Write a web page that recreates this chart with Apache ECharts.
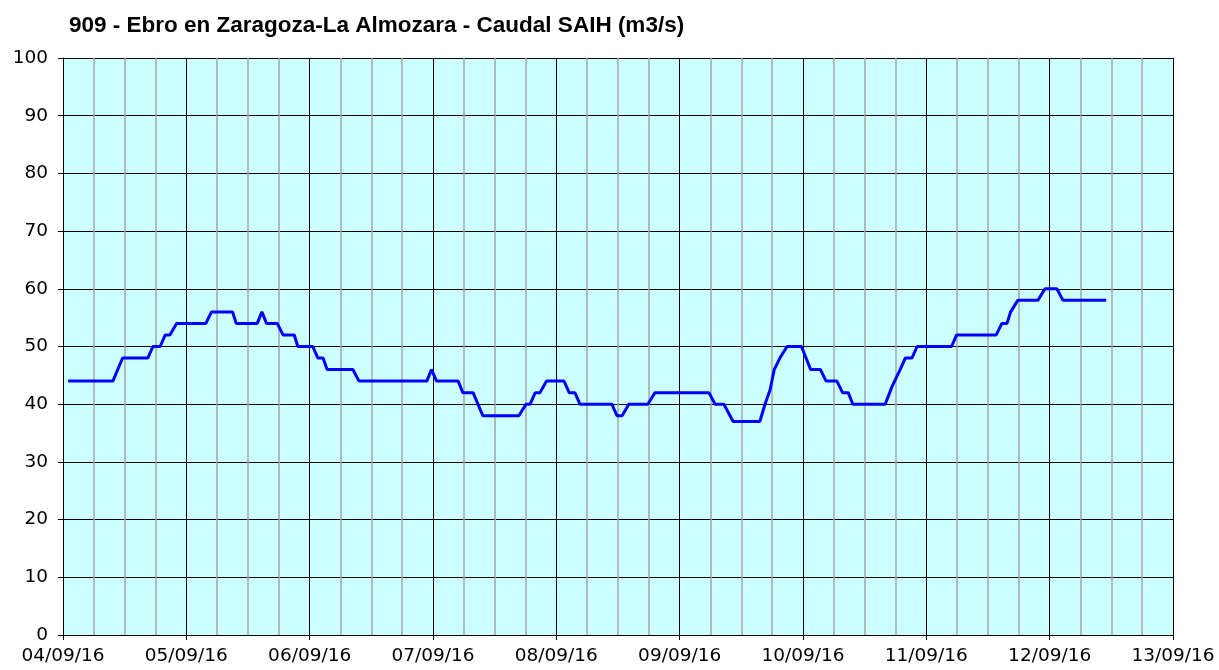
<!DOCTYPE html>
<html>
<head>
<meta charset="utf-8">
<script src="https://cdn.jsdelivr.net/npm/echarts@6/dist/echarts.min.js"></script>
<style>
  html, body { margin: 0; padding: 0; background: #fff; }
  #chart { width: 1219px; height: 670px; }
</style>
</head>
<body>
<div id="chart"></div>
<script>
// hours since 04/09/16 00:00
var hours = [1, 9.7, 11.6, 16.5, 17.5, 18.9, 19.9, 20.8, 22.1, 27.8, 28.9, 33, 33.7, 37.8, 38.7, 39.6,
  41.7, 42.8, 45, 45.7, 48.6, 49.6, 50.6, 51.4, 56.4, 57.6, 70.8, 71.7, 72.7, 76.9, 77.8, 79.8,
  81.7, 88.7, 90.1, 90.9, 91.9, 92.8, 94.1, 97.5, 98.5, 99.6, 100.6, 106.8, 107.8, 108.8, 110.1,
  113.8, 115.2, 125.7, 126.9, 128.6, 130.4, 135.6, 136.6, 137.6, 138.4, 139.5, 140.9, 143.7,
  145.5, 147.4, 148.5, 150.6, 151.7, 152.8, 153.7, 160, 161.3, 162.9, 163.9, 165.2, 166.2,
  172.9, 173.9, 181.6, 182.7, 183.7, 184.4, 185.8, 189.7, 191.1, 193.4, 194.6, 203];
var caudal = [44, 44, 48, 48, 50, 50, 52, 52, 54, 54, 56, 56, 54, 54, 56, 54,
  54, 52, 52, 50, 50, 48, 48, 46, 46, 44, 44, 46, 44, 44, 42, 42,
  38, 38, 40, 40, 42, 42, 44, 44, 42, 42, 40, 40, 38, 38, 40,
  40, 42, 42, 40, 40, 37, 37, 40, 42.5, 46, 48, 50, 50,
  46, 46, 44, 44, 42, 42, 40, 40, 43, 46, 48, 48, 50,
  50, 52, 52, 54, 54, 56, 58, 58, 60, 60, 58, 58];
var dayLabels = ['04/09/16', '05/09/16', '06/09/16', '07/09/16', '08/09/16',
  '09/09/16', '10/09/16', '11/09/16', '12/09/16', '13/09/16'];

var points = hours.map(function (h, i) { return [h, caudal[i]]; });

var myChart = echarts.init(document.getElementById('chart'));
var option = {
  animation: false,
  title: {
    text: '909 - Ebro en Zaragoza-La Almozara - Caudal SAIH (m3/s)',
    left: 64,
    top: 9,
    textStyle: { fontFamily: 'Liberation Sans', fontSize: 22.5, fontWeight: 'bold', color: '#000' }
  },
  grid: { left: 63, right: 46, top: 58, bottom: 35, show: true, backgroundColor: '#ccffff', borderWidth: 0 },
  xAxis: {
    type: 'value',
    min: 0,
    max: 216,
    interval: 24,
    axisLine: { lineStyle: { color: '#000', width: 1 } },
    axisTick: { show: true, length: 5, lineStyle: { color: '#000' } },
    axisLabel: {
      color: '#000',
      fontFamily: 'DejaVu Sans',
      fontSize: 18.5,
      margin: 12,
      formatter: function (v) { return dayLabels[Math.round(v / 24)]; }
    },
    splitLine: { show: true, lineStyle: { color: '#000', width: 1 } },
    minorTick: { show: false, splitNumber: 4 },
    minorSplitLine: { show: true, lineStyle: { color: '#a6a6a6', width: 1.5 } }
  },
  yAxis: {
    type: 'value',
    min: 0,
    max: 100,
    interval: 10,
    axisLine: { show: true, lineStyle: { color: '#000', width: 1 } },
    axisTick: { show: true, length: 5, lineStyle: { color: '#000' } },
    axisLabel: { color: '#000', fontFamily: 'DejaVu Sans', fontSize: 18.5, margin: 15 },
    splitLine: { show: true, lineStyle: { color: '#000', width: 1 } }
  },
  series: [{
    type: 'line',
    data: points,
    showSymbol: false,
    lineStyle: { color: '#0000ff', width: 3 },
    z: 5
  }]
};
myChart.setOption(option);
</script>
</body>
</html>
